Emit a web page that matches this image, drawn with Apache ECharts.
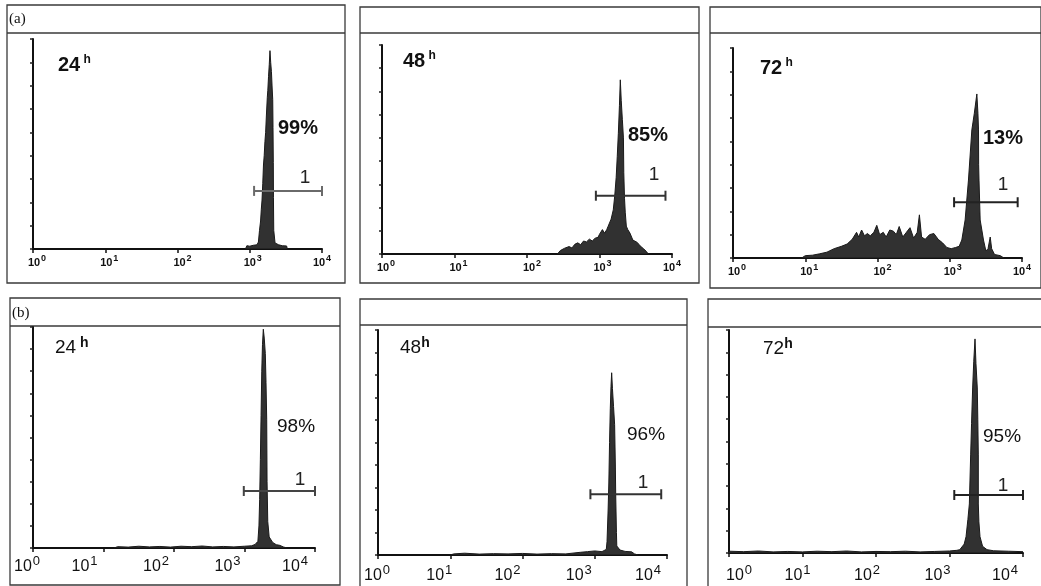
<!DOCTYPE html>
<html>
<head>
<meta charset="utf-8">
<script src="https://cdn.jsdelivr.net/npm/echarts@6/dist/echarts.min.js"></script>
<style>
html,body{margin:0;padding:0;background:#fff;}
#chart{width:1041px;height:586px;}
</style>
</head>
<body>
<div id="chart"></div>
<script>
// ---- tick labels / texts ----
const tickExponents = ['0', '1', '2', '3', '4'];
const panelTimes = ['24', '48', '72', '24', '48', '72'];
const panelPercents = ['99%', '85%', '13%', '98%', '96%', '95%'];
const gateNames = ['1', '1', '1', '1', '1', '1'];
const rowLetters = ['(a)', '(b)'];

// ---- histogram data: [log10 fluorescence, count] ----
const a24Hist = [[2.94,0],[2.96,1.4],[3.00,1.2],[3.05,1.6],[3.10,1.8],[3.12,3],[3.135,8],[3.15,12],[3.16,17],[3.17,21],[3.18,28],[3.19,36],[3.20,40],[3.21,46],[3.22,50],[3.23,57],[3.243,65],[3.25,68],[3.26,74],[3.27,79],[3.28,85],[3.29,80],[3.30,76],[3.31,69],[3.318,64],[3.322,52],[3.326,37],[3.328,22],[3.332,8],[3.35,2.6],[3.40,1.8],[3.45,1.4],[3.51,1.3],[3.52,0]];
const a48Hist = [[2.42,0],[2.46,1.5],[2.52,2.5],[2.58,3.2],[2.62,2.6],[2.66,4.2],[2.70,4.8],[2.74,4.0],[2.78,5.6],[2.82,5.2],[2.86,6.4],[2.90,5.6],[2.94,6.8],[2.98,7.2],[3.00,8.5],[3.04,10.5],[3.07,9.0],[3.10,10.5],[3.12,12],[3.16,15],[3.19,19],[3.21,25],[3.23,33],[3.245,42],[3.26,52],[3.275,64],[3.287,75],[3.30,66],[3.315,58],[3.33,50],[3.335,35],[3.345,24],[3.355,18],[3.37,12],[3.39,10.5],[3.40,11],[3.42,9],[3.46,6],[3.52,5],[3.56,3.5],[3.61,2.2],[3.65,1],[3.67,0]];
const a72Hist = [[0.95,0],[1.0,1],[1.1,1.2],[1.2,1.8],[1.3,2.5],[1.4,4],[1.5,5],[1.58,6],[1.65,8],[1.71,11],[1.74,9],[1.78,12],[1.82,9.5],[1.86,10.5],[1.9,9.5],[1.95,11],[1.99,14],[2.03,10],[2.08,11],[2.12,9],[2.17,12],[2.22,11.5],[2.26,10],[2.30,13.5],[2.35,9],[2.40,11],[2.45,13],[2.50,8.5],[2.55,11],[2.58,18.5],[2.61,9],[2.66,8],[2.72,10],[2.78,10.5],[2.84,8],[2.90,6.5],[2.96,4.5],[3.02,4],[3.08,4.5],[3.13,5],[3.167,7.7],[3.213,16.3],[3.259,33.4],[3.306,54.9],[3.34,62],[3.375,70.3],[3.39,62],[3.398,54.9],[3.40,40],[3.405,33.4],[3.421,16.3],[3.467,7.7],[3.50,3],[3.53,4],[3.56,9],[3.58,4],[3.62,1.5],[3.70,1],[3.75,0]];
const b24Hist = [[1.15,0],[1.2,0.6],[1.35,0.4],[1.5,0.8],[1.65,0.5],[1.8,0.7],[1.95,0.4],[2.1,0.8],[2.25,0.6],[2.4,0.9],[2.55,0.5],[2.7,0.7],[2.85,0.5],[3.0,0.8],[3.1,1.0],[3.15,1.6],[3.19,3],[3.205,10],[3.215,22],[3.225,40],[3.235,60],[3.245,80],[3.255,92],[3.267,99],[3.28,95],[3.295,88],[3.305,75],[3.315,58],[3.32,30],[3.33,12],[3.35,5],[3.40,2.5],[3.45,1.5],[3.50,1.2],[3.55,0.5],[3.6,0]];
const b48Hist = [[1.0,0],[1.05,0.5],[1.2,0.8],[1.4,0.4],[1.6,0.6],[1.8,0.5],[2.0,0.7],[2.2,0.4],[2.4,0.6],[2.6,0.5],[2.8,1.2],[2.9,1.5],[3.0,1.8],[3.1,1.5],[3.16,2.5],[3.17,6],[3.185,20],[3.195,32],[3.205,50],[3.215,65],[3.225,75],[3.234,81],[3.245,74],[3.26,66],[3.275,58],[3.285,40],[3.29,27],[3.30,10],[3.305,4],[3.35,2.2],[3.42,1.6],[3.51,1.4],[3.55,0.5],[3.6,0]];
const b72Hist = [[0.0,0.8],[0.2,0.6],[0.4,0.9],[0.6,0.5],[0.8,0.7],[1.0,0.5],[1.2,0.8],[1.4,0.6],[1.6,0.9],[1.8,0.5],[2.0,0.7],[2.2,0.6],[2.4,0.8],[2.6,0.5],[2.8,0.7],[3.0,0.9],[3.1,1.2],[3.14,1.5],[3.2,4],[3.225,7.3],[3.25,15],[3.27,22],[3.288,44],[3.30,58],[3.315,74],[3.33,86],[3.347,96],[3.36,85],[3.378,74],[3.385,60],[3.392,44],[3.392,22],[3.40,14],[3.415,7.3],[3.45,3],[3.51,1.5],[3.6,1],[3.8,0.8],[4.0,0.6]];

// ---- gate markers: [start log10, end log10, count level] ----
const a24Gate = [3.06, 4.0, 24.9];
const a48Gate = [2.95, 3.91, 25.1];
const a72Gate = [3.06, 3.94, 23.9];
const b24Gate = [2.99, 4.0, 25.8];
const b48Gate = [2.94, 3.92, 27.0];
const b72Gate = [3.065, 4.0, 26.0];

const hists = [a24Hist, a48Hist, a72Hist, b24Hist, b48Hist, b72Hist];
const gates = [a24Gate, a48Gate, a72Gate, b24Gate, b48Gate, b72Gate];

// ---- layout (pixels) ----
const FAM = 'Liberation Sans';
const FONT = '"Liberation Sans", Arial, sans-serif';
// labelShift: horizontal offset (px) of each tick label centre relative to its tick
const panels = [
  {grid:{left:33,top:39,width:289,height:210}, yMax:90, frame:[7,5,338,278,33], bold:true, gateColor:'#6a6a6a',
   time:[58,65], pct:[278,128], one:[305,178], sp:' ', lm:5, labelShift:[4,4,5,3,0]},
  {grid:{left:382,top:45,width:290,height:209}, yMax:90, frame:[360,7,339,276,33], bold:true, gateColor:'#333',
   time:[403,61], pct:[628,135], one:[654,175], sp:' ', lm:5, labelShift:[4,4,5,3,0]},
  {grid:{left:733,top:48,width:289,height:210}, yMax:90, frame:[710,7,331,281,33], bold:true, gateColor:'#222',
   time:[760,68], pct:[983,138], one:[1003,185], sp:' ', lm:5, labelShift:[4,4,5,3,0]},
  {grid:{left:33,top:327,width:282,height:221}, yMax:100, frame:[10,298,330,287,326], bold:false, gateColor:'#444',
   time:[55,348], pct:[277,427], one:[300,480], sp:' ', lm:7, labelShift:[-6,-19,-18,-17,-20]},
  {grid:{left:378,top:330,width:289,height:225}, yMax:100, frame:[360,299,327,290,325], bold:false, gateColor:'#333',
   time:[400,348], pct:[627,435], one:[643,483], sp:'', lm:9, labelShift:[-1,-11,-15,-16,-19]},
  {grid:{left:729,top:330,width:294,height:223}, yMax:100, frame:[708,299,335,290,327], bold:false, gateColor:'#222',
   time:[763,349], pct:[983,437], one:[1003,486], sp:'', lm:11, labelShift:[10,-5,-9,-12,-18]}
];

const grids = [], xAxes = [], yAxes = [], series = [], graphics = [];

panels.forEach((p, i) => {
  grids.push(Object.assign({containLabel:false}, p.grid));
  const rich = p.bold
    ? {b:{fontSize:11, fontWeight:'bold', fontFamily:FAM, color:'#111'},
       s:{fontSize:9, fontWeight:'bold', fontFamily:FAM, color:'#111', padding:[0,0,8,1]}}
    : {b:{fontSize:16, fontFamily:FAM, color:'#111'},
       s:{fontSize:13, fontFamily:FAM, color:'#111', padding:[0,0,11,1]}};
  // spacer tokens to shift individual labels
  p.labelShift.forEach((sh, k) => {
    rich['l' + k] = {width: sh > 0 ? 2 * sh : 0, fontSize: 1};
    rich['r' + k] = {width: sh < 0 ? -2 * sh : 0, fontSize: 1};
  });
  xAxes.push({
    gridIndex:i, type:'value', min:0, max:4, interval:1,
    axisLine:{onZero:false, lineStyle:{color:'#111', width:2}},
    axisTick:{show:true, length:4, lineStyle:{color:'#111', width:1.5}},
    splitLine:{show:false},
    axisLabel:{
      margin: p.lm,
      fontFamily: FAM,
      formatter: v => {
        const k = Math.round(v);
        return '{l' + k + '| }{b|10}{s|' + tickExponents[k] + '}{r' + k + '| }';
      },
      rich: rich
    }
  });
  yAxes.push({
    gridIndex:i, type:'value', min:0, max:p.yMax, interval:10,
    axisLine:{show:true, lineStyle:{color:'#111', width:2}},
    axisTick:{show:true, length:3, lineStyle:{color:'#222', width:1.5}},
    axisLabel:{show:false}, splitLine:{show:false}
  });
  series.push({
    type:'line', xAxisIndex:i, yAxisIndex:i, data:hists[i],
    symbol:'none', smooth:false, z:3,
    lineStyle:{color:'#1a1a1a', width:1},
    areaStyle:{color:'#262626', opacity:0.95}
  });
  const g = gates[i];
  series.push({
    type:'line', xAxisIndex:i, yAxisIndex:i,
    data:[[g[0], g[2]], [g[1], g[2]]],
    symbol:'rect', symbolSize:[2, 10], showSymbol:true, z:4,
    lineStyle:{color:p.gateColor, width:2},
    itemStyle:{color:p.gateColor}
  });

  // frame & header
  const f = p.frame;
  graphics.push({type:'rect', shape:{x:f[0], y:f[1], width:f[2], height:f[3]},
    style:{fill:'none', stroke:'#3a3a3a', lineWidth:1.3}, z:0});
  graphics.push({type:'line', shape:{x1:f[0], y1:f[4], x2:f[0]+f[2], y2:f[4]},
    style:{stroke:'#3a3a3a', lineWidth:1.3}, z:0});

  // time label
  const tRich = p.bold
    ? {n:{fontSize:20, fontWeight:'bold', fontFamily:FAM, fill:'#111'},
       h:{fontSize:12, fontWeight:'bold', fontFamily:FAM, fill:'#111', padding:[0,0,10,0]}}
    : {n:{fontSize:19, fontFamily:FAM, fill:'#111'},
       h:{fontSize:14, fontWeight:'bold', fontFamily:FAM, fill:'#111', padding:[0,0,10,0]}};
  graphics.push({type:'text', x:p.time[0], y:p.time[1], z:5,
    style:{text:'{n|' + panelTimes[i] + '}' + '{h|' + p.sp + 'h}', rich:tRich,
      textAlign:'left', textVerticalAlign:'middle', verticalAlign:'middle'}});
  // percentage
  graphics.push({type:'text', x:p.pct[0], y:p.pct[1], z:5,
    style:{text:panelPercents[i], font:(p.bold ? 'bold 20px ' : '19px ') + FONT, fill:'#111',
      textAlign:'left', textVerticalAlign:'middle', verticalAlign:'middle'}});
  // gate name
  graphics.push({type:'text', x:p.one[0], y:p.one[1], z:5,
    style:{text:gateNames[i], font:'19px ' + FONT, fill:'#222',
      textAlign:'center', align:'center', textVerticalAlign:'middle', verticalAlign:'middle'}});
});

graphics.push({type:'text', x:9, y:19, z:5,
  style:{text:rowLetters[0], font:'15px "Liberation Serif", "Times New Roman", serif', fill:'#111',
    textVerticalAlign:'middle', verticalAlign:'middle'}});
graphics.push({type:'text', x:12, y:313, z:5,
  style:{text:rowLetters[1], font:'15px "Liberation Serif", "Times New Roman", serif', fill:'#111',
    textVerticalAlign:'middle', verticalAlign:'middle'}});

const chart = echarts.init(document.getElementById('chart'), null, {renderer:'canvas'});
chart.setOption({
  animation:false,
  backgroundColor:'#ffffff',
  grid:grids, xAxis:xAxes, yAxis:yAxes, series:series,
  graphic:graphics
});
</script>
</body>
</html>
